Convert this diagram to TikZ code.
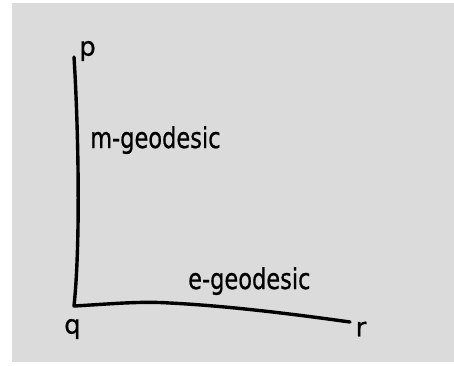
\documentclass[tikz,border=0pt]{standalone}
\usepackage{fontspec}
\setmainfont{DejaVu Sans}
\newfontfamily\gfont[FakeBold=0.8]{DejaVu Sans}
\newcommand\gtxt[1]{\scalebox{1}[1.28]{#1}}
\begin{document}
\begin{tikzpicture}[x=1pt,y=-1pt,
  curve/.style={line width=3.4pt,line cap=round,line join=round,black},
  lbl/.style={inner sep=0pt,font=\gfont\fontsize{22.5}{26}\selectfont},
  pt/.style={inner sep=0pt,font=\gfont\fontsize{26}{30}\selectfont}]
\useasboundingbox (0,0) rectangle (454,365);
\fill[black!14] (12,3) rectangle (454,362);
\coordinate (P) at (74,57);
\coordinate (Q) at (74,306);
\coordinate (M) at (170,303);
\coordinate (R) at (350,322);
\draw[curve] (P) .. controls (78,120) and (81,240) .. (Q)
  .. controls (110,304) and (140,301) .. (M)
  .. controls (230,306) and (300,315) .. (R);
\node[pt] (p) at (87.5,51) {p};
\node[pt] (q) at (72.5,329) {q};
\node[pt] (r) at (361,329) {r};
\node[lbl,anchor=base west] (mg) at (90,148) {\gtxt{m-geodesic}};
\node[lbl,anchor=base west] (eg) at (188,289) {\gtxt{e-geodesic}};
\end{tikzpicture}
\end{document}
